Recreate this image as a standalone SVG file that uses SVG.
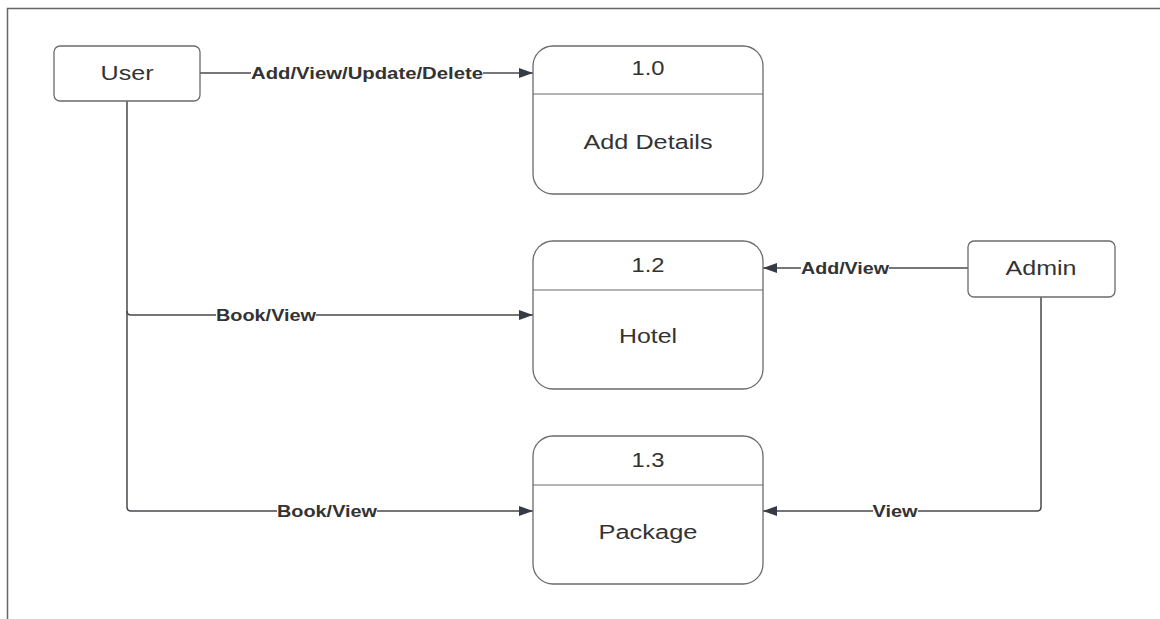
<svg xmlns="http://www.w3.org/2000/svg" width="1160" height="619" viewBox="0 0 1160 619">
<style>
.node{fill:#fff;stroke:#6b6b6b;stroke-width:1.3}
.div{stroke:#6b6b6b;stroke-width:1.2}
.t{font-family:"Liberation Sans",Arial,sans-serif;font-size:20px;fill:#333;text-anchor:middle;dominant-baseline:central}
.c{fill:none;stroke:#4a4a4f;stroke-width:1.5}
.lbl{font-family:"Liberation Sans",Arial,sans-serif;font-size:16px;font-weight:bold;fill:#333;text-anchor:middle;dominant-baseline:central}
.bg{fill:#fff}
</style>
<defs>
<marker id="arr" viewBox="0 0 14 10" refX="14" refY="5" markerWidth="14" markerHeight="10" markerUnits="userSpaceOnUse" orient="auto">
<path d="M0,0 L14,5 L0,10 Z" fill="#363a45"/>
</marker>
</defs>
<rect width="1160" height="619" fill="#fff"/>
<path d="M7.5,619 V8.5 H1160" fill="none" stroke="#666" stroke-width="1.5"/>
<g id="connectors">
<path class="c" d="M200,73 H533" marker-end="url(#arr)"/>
<path class="c" d="M127,101 V311 Q127,315 131,315 H533" marker-end="url(#arr)"/>
<path class="c" d="M127,311 V507 Q127,511 131,511 H533" marker-end="url(#arr)"/>
<path class="c" d="M968,268 H763" marker-end="url(#arr)"/>
<path class="c" d="M1041,297 V507 Q1041,511 1037,511 H763" marker-end="url(#arr)"/>
<rect class="bg" x="251" y="64" width="232" height="18"/>
<text class="lbl" x="367" y="73" textLength="232" lengthAdjust="spacingAndGlyphs">Add/View/Update/Delete</text>
<rect class="bg" x="216" y="306" width="100" height="18"/>
<text class="lbl" x="266" y="315" textLength="100" lengthAdjust="spacingAndGlyphs">Book/View</text>
<rect class="bg" x="277" y="502" width="100" height="18"/>
<text class="lbl" x="327" y="511" textLength="100" lengthAdjust="spacingAndGlyphs">Book/View</text>
<rect class="bg" x="801" y="259" width="88" height="18"/>
<text class="lbl" x="845" y="268" textLength="88" lengthAdjust="spacingAndGlyphs">Add/View</text>
<rect class="bg" x="873" y="502" width="45" height="18"/>
<text class="lbl" x="895" y="511" textLength="45" lengthAdjust="spacingAndGlyphs">View</text>
</g>
<g id="user">
<rect class="node" x="54" y="46" width="146" height="55" rx="6"/>
<text class="t" x="127" y="73" textLength="53" lengthAdjust="spacingAndGlyphs">User</text>
</g>
<g id="admin">
<rect class="node" x="968" y="241" width="147" height="56" rx="6"/>
<text class="t" x="1041" y="268" textLength="71" lengthAdjust="spacingAndGlyphs">Admin</text>
</g>
<g id="p10">
<rect class="node" x="533" y="46" width="230" height="148" rx="20"/>
<line class="div" x1="533" y1="94" x2="763" y2="94"/>
<text class="t" x="648" y="68" textLength="33" lengthAdjust="spacingAndGlyphs">1.0</text>
<text class="t" x="648" y="142" textLength="129" lengthAdjust="spacingAndGlyphs">Add Details</text>
</g>
<g id="p12">
<rect class="node" x="533" y="241" width="230" height="148" rx="20"/>
<line class="div" x1="533" y1="290" x2="763" y2="290"/>
<text class="t" x="648" y="265" textLength="33" lengthAdjust="spacingAndGlyphs">1.2</text>
<text class="t" x="648" y="336" textLength="58" lengthAdjust="spacingAndGlyphs">Hotel</text>
</g>
<g id="p13">
<rect class="node" x="533" y="436" width="230" height="148" rx="20"/>
<line class="div" x1="533" y1="485" x2="763" y2="485"/>
<text class="t" x="648" y="460" textLength="33" lengthAdjust="spacingAndGlyphs">1.3</text>
<text class="t" x="648" y="532" textLength="99" lengthAdjust="spacingAndGlyphs">Package</text>
</g>
</svg>
